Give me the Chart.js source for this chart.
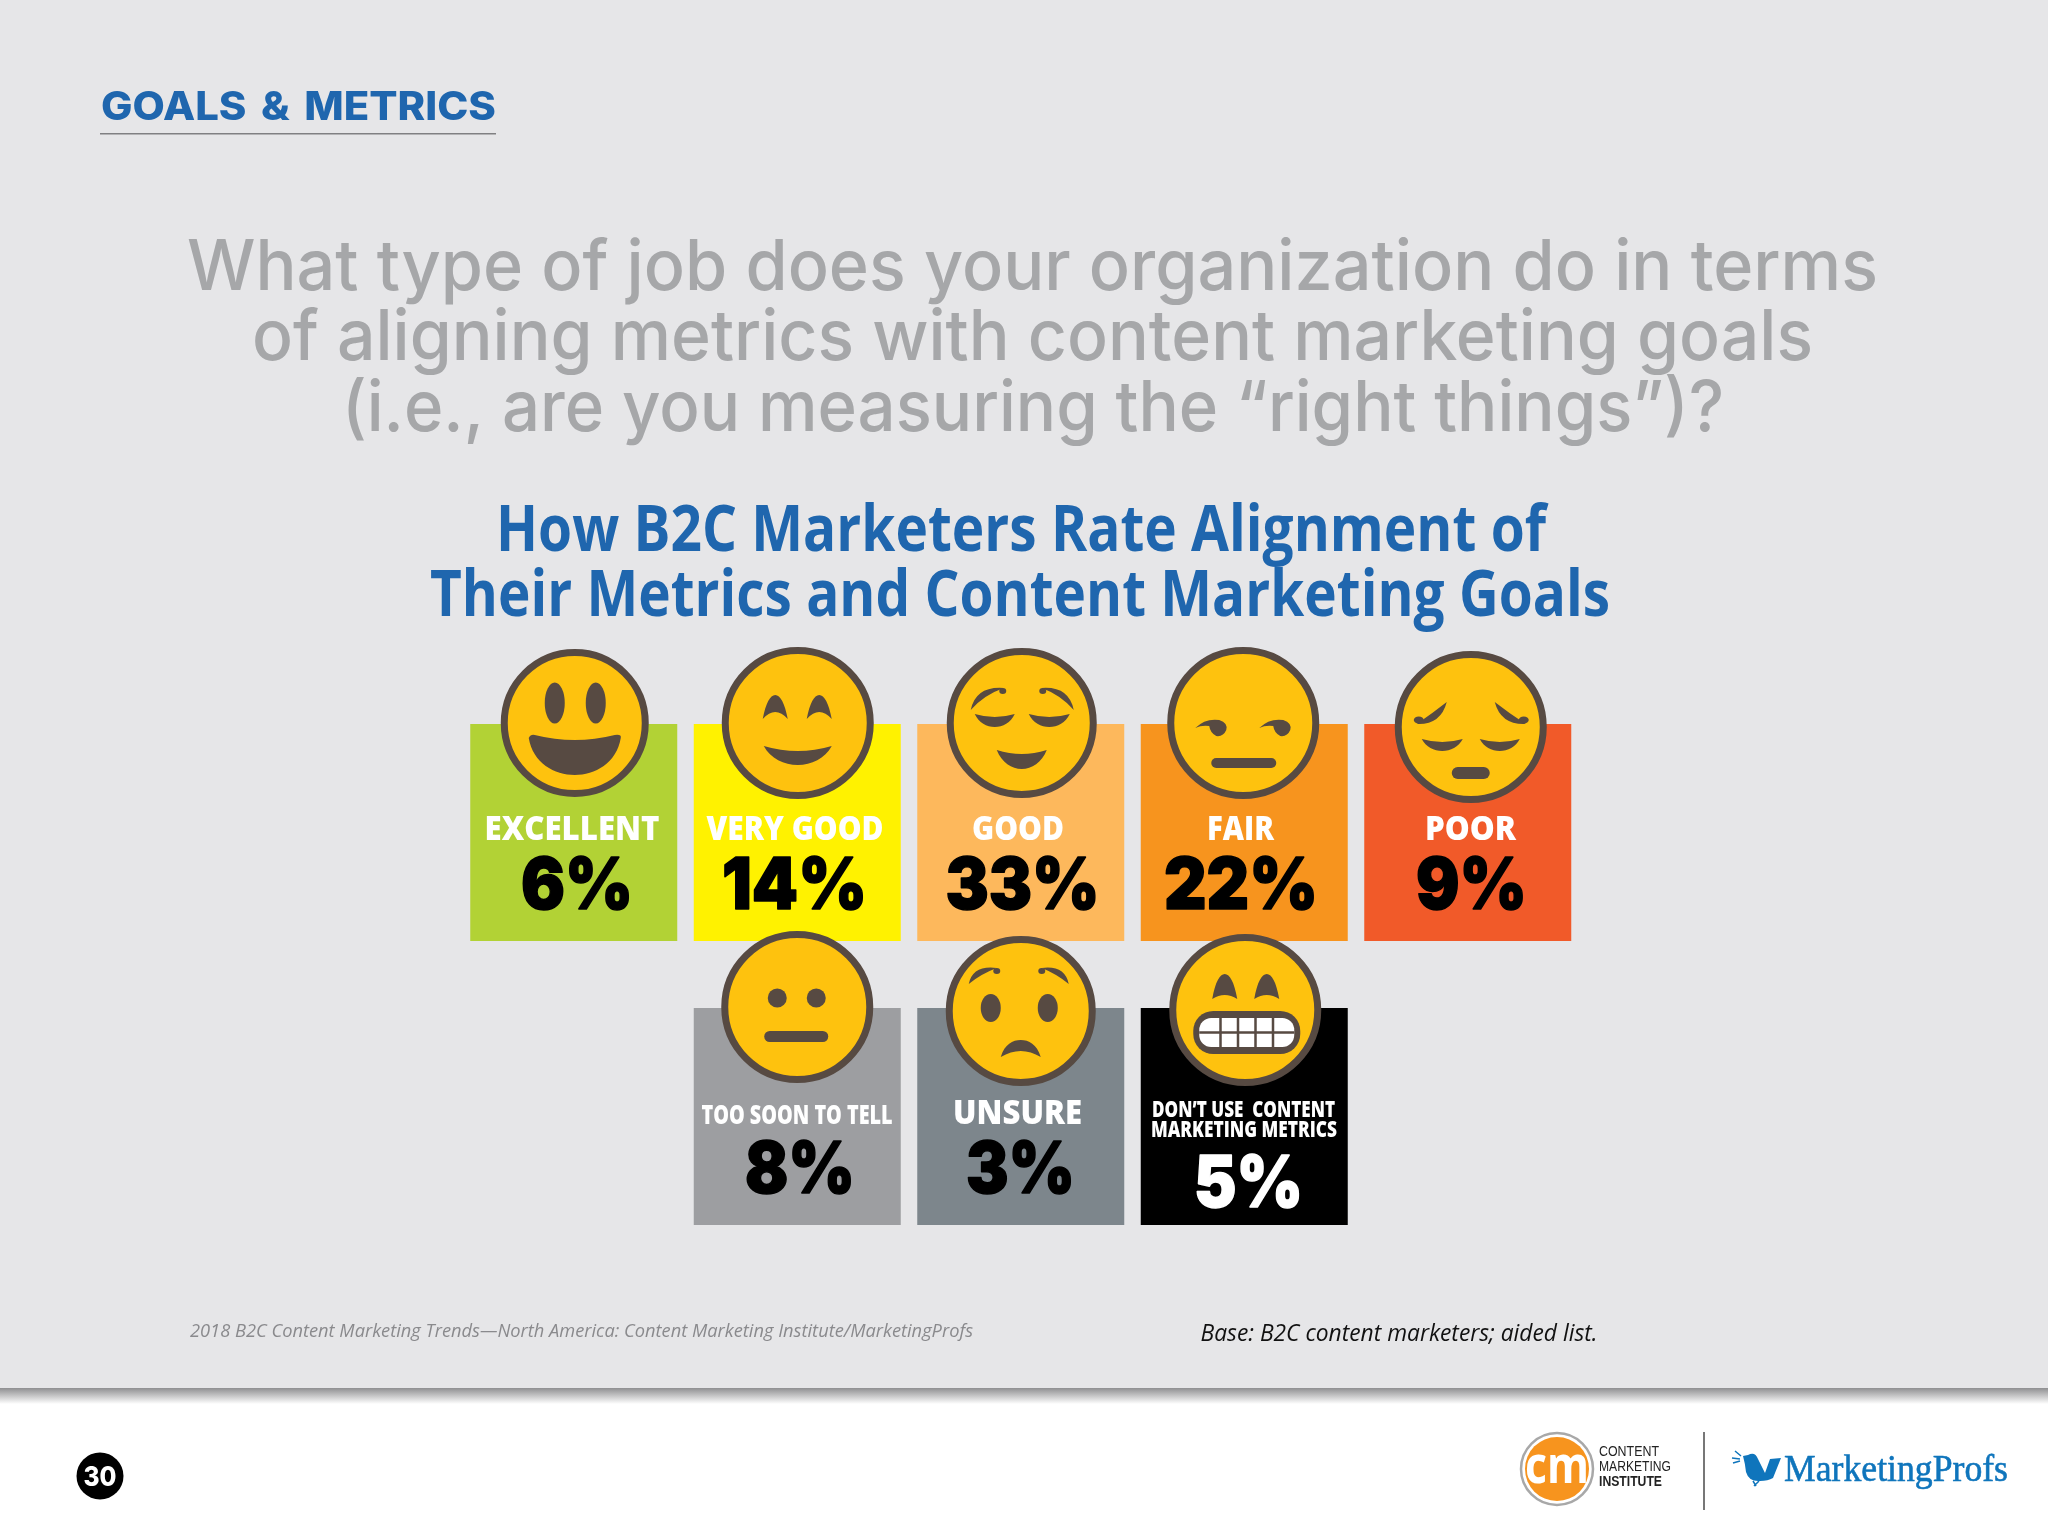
<!DOCTYPE html>
<html>
<head>
<meta charset="utf-8">
<title>How B2C Marketers Rate Alignment</title>
<script src="https://cdn.jsdelivr.net/npm/chart.js@4/dist/chart.umd.js"></script>
<style>
  html, body { margin: 0; padding: 0; background: #e6e6e8; }
  canvas { position: absolute; left: 0; top: 0; display: block; }
</style>
</head>
<body>
<canvas id="tilesChart" width="2048" height="1536"></canvas>
<script>
// data
const columns = ['1', '2', '3', '4', '5'];
const topLabels = ['EXCELLENT', 'VERY GOOD', 'GOOD', 'FAIR', 'POOR'];
const topValues = [6, 14, 33, 22, 9];
const bottomLabels = [null, 'TOO SOON TO TELL', 'UNSURE', 'DON\u2019T USE  CONTENT|MARKETING METRICS', null];
const bottomValues = [null, 8, 3, 5, null];

const topColors = ['#b2d235', '#fff200', '#fdb85c', '#f7941e', '#f15a29'];
const bottomColors = ['#000', '#9d9ea1', '#7d868c', '#000000', '#000'];
const topNumColors = ['#000', '#000', '#000', '#000', '#000'];
const bottomNumColors = ['#000', '#000', '#000', '#fff', '#000'];

const FACE = '#fec20e';
const INK = '#574a42';
const BLUE = '#1f66ae';
const TILE_ROW2 = 284 / 217;

// [dx, dy] from tile centre top, radius, face kind
const topFaces = [
    [1, -1, 74, 'grin'], [0.5, -1, 76, 'smile'], [1, -1, 75, 'relieved'],
    [-1, -1, 76, 'smirk'], [3, 3, 76, 'sad']
];
const bottomFaces = [
    null, [0, -1, 76, 'neutral'], [0, 3, 75, 'worried'], [1, 2, 76, 'teeth'], null
];
// label lines: [cx, baseline, width, font size] and value: [cx, baseline, width]
const topText = [
    [[572, 839.5, 175]], [[795, 839.5, 177]], [[1018, 839.5, 92]], [[1240.5, 839.5, 67]], [[1470.5, 839.5, 91]]
];
const topNum = [[577, 909, 112], [794.5, 909, 145], [1022.5, 909, 154], [1241, 909, 154], [1471.5, 909, 111]];
const bottomText = [
    null, [[797, 1124, 191, 27]], [[1017.5, 1124, 129, 33]],
    [[1243.5, 1117, 183, 22], [1244, 1137, 186, 22]], null
];
const bottomNum = [null, [800, 1193, 110], [1020.5, 1193, 109], [1248.5, 1207, 109], null];

function fitText(ctx, text, cx, y, font, width, color, heavy) {
    ctx.save();
    ctx.font = font;
    ctx.fillStyle = color;
    ctx.textAlign = 'center';
    ctx.textBaseline = 'alphabetic';
    const w = ctx.measureText(text).width;
    ctx.translate(cx, y);
    ctx.scale(width / w, 1);
    ctx.fillText(text, 0, 0);
    if (heavy) {
        ctx.strokeStyle = color;
        ctx.lineWidth = heavy;
        ctx.lineJoin = 'round';
        ctx.strokeText(text, 0, 0);
    }
    ctx.restore();
}

function ell(ctx, x, y, rx, ry) {
    ctx.beginPath();
    ctx.ellipse(x, y, rx, ry, 0, 0, Math.PI * 2);
    ctx.fill();
}

function rounded(ctx, x0, y0, x1, y1, r) {
    ctx.beginPath();
    ctx.roundRect(x0, y0, x1 - x0, y1 - y0, r);
    ctx.fill();
}

// crescent: top edge from (x0,y) to (x1,y) dipping to ytop, sagging to yb in the middle
function crescent(ctx, x0, x1, y, ytop, yb) {
    const m = (x0 + x1) / 2;
    ctx.beginPath();
    ctx.moveTo(x0, y);
    ctx.quadraticCurveTo(m, ytop + (ytop - y), x1, y);
    ctx.bezierCurveTo(x1 - (x1 - m) * 0.4, yb + (yb - y) * 0.33, m - (x1 - m) * 0.6, yb + (yb - y) * 0.33, x0, y);
    ctx.fill();
}

// brow: round thick end at a, tapering to b; two control points give the thickness
function brow(ctx, ax, ay, c1x, c1y, bx, by, c2x, c2y) {
    ctx.beginPath();
    ctx.moveTo(ax, ay);
    ctx.quadraticCurveTo(c1x, c1y, bx, by);
    ctx.quadraticCurveTo(c2x, c2y, ax, ay);
    ctx.fill();
}

// arched eye: peak with indented bottom
function archEye(ctx, x0, x1, yBase, yPeak, yInner) {
    const m = (x0 + x1) / 2;
    ctx.beginPath();
    ctx.moveTo(x0, yBase);
    ctx.bezierCurveTo(x0 + 3, yPeak + 8, m - 5, yPeak, m, yPeak);
    ctx.bezierCurveTo(m + 5, yPeak, x1 - 3, yPeak + 8, x1, yBase);
    ctx.quadraticCurveTo(m, yInner - (yBase - yInner), x0, yBase);
    ctx.fill();
}

const faceKinds = {
    grin(ctx) {
        ell(ctx, -20, -20, 10, 20.5);
        ell(ctx, 21, -20, 10, 20.5);
        ctx.beginPath();
        ctx.moveTo(-46, 15);
        ctx.quadraticCurveTo(-44, 11, -40, 12);
        ctx.quadraticCurveTo(0, 22, 40, 12);
        ctx.quadraticCurveTo(47, 11, 46, 15);
        ctx.bezierCurveTo(42, 40, 20, 52, 0, 52);
        ctx.bezierCurveTo(-20, 52, -42, 40, -46, 15);
        ctx.fill();
    },
    smile(ctx) {
        archEye(ctx, -35, -10, -4, -28, -11);
        archEye(ctx, 9, 34, -4, -28, -11);
        crescent(ctx, -34, 34, 23, 28, 42);
    },
    relieved(ctx) {
        ell(ctx, -19, -32, 3.5, 3);
        ell(ctx, 21, -32, 3.5, 3);
        brow(ctx, -18, -35, -46, -37, -51, -13, -38, -28);
        brow(ctx, 20, -35, 47, -37, 52, -13, 39, -28);
        crescent(ctx, -47, -7, -9, -6, 4);
        crescent(ctx, 7, 48, -9, -6, 4);
        crescent(ctx, -25, 25, 27, 31, 46);
    },
    smirk(ctx) {
        ctx.beginPath();
        ctx.moveTo(-48, 5);
        ctx.quadraticCurveTo(-38, -5, -24, -3);
        ctx.quadraticCurveTo(-15, 0, -17, 7);
        ctx.quadraticCurveTo(-20, 14, -27, 13);
        ctx.quadraticCurveTo(-33, 10, -34, 3);
        ctx.quadraticCurveTo(-42, 2, -48, 5);
        ctx.fill();
        ctx.beginPath();
        ctx.moveTo(16, 5);
        ctx.quadraticCurveTo(26, -5, 40, -3);
        ctx.quadraticCurveTo(49, 0, 47, 7);
        ctx.quadraticCurveTo(44, 14, 37, 13);
        ctx.quadraticCurveTo(31, 10, 30, 3);
        ctx.quadraticCurveTo(22, 2, 16, 5);
        ctx.fill();
        rounded(ctx, -32, 35, 33, 45, 5);
    },
    sad(ctx) {
        ell(ctx, -52, -7, 5, 3.5);
        ell(ctx, 53, -7, 5, 3.5);
        brow(ctx, -24, -25, -30, -2, -54, -3, -38, -14);
        brow(ctx, 24, -25, 30, -2, 55, -3, 38, -14);
        crescent(ctx, -49, -8, 12, 15, 24);
        crescent(ctx, 9, 49, 12, 15, 24);
        rounded(ctx, -19, 40, 19, 52, 6);
    },
    neutral(ctx) {
        ell(ctx, -20, -9, 9.5, 9.5);
        ell(ctx, 19, -9, 9.5, 9.5);
        rounded(ctx, -33, 24, 31, 35, 5.5);
    },
    worried(ctx) {
        ell(ctx, -24, -40, 3.5, 3);
        ell(ctx, 21, -40, 3.5, 3);
        brow(ctx, -24, -43, -48, -46, -52, -27, -40, -37);
        brow(ctx, 21, -43, 44, -46, 48, -27, 36, -37);
        ell(ctx, -30, -3, 10, 14);
        ell(ctx, 27, -3, 10, 14);
        ctx.beginPath();
        ctx.moveTo(-20, 46);
        ctx.bezierCurveTo(-16, 33, -8, 29, 0, 29);
        ctx.bezierCurveTo(8, 29, 16, 33, 20, 46);
        ctx.quadraticCurveTo(0, 34, -20, 46);
        ctx.fill();
    },
    teeth(ctx) {
        archEye(ctx, -33, -8, -11, -36, -15);
        archEye(ctx, 9, 34, -11, -36, -15);
        rounded(ctx, -52, 1, 55, 44, 20);
        ctx.fillStyle = '#fff';
        rounded(ctx, -46, 8, 49, 37, 12);
        ctx.strokeStyle = INK;
        ctx.lineWidth = 2.5;
        ctx.beginPath();
        for (let i = -1.5; i <= 2; i++) {
            ctx.moveTo(1.5 + i * 17.5, 7);
            ctx.lineTo(1.5 + i * 17.5, 38);
        }
        ctx.moveTo(-46, 22.5);
        ctx.lineTo(49, 22.5);
        ctx.stroke();
    }
};

function drawFace(ctx, x, y, r, kind) {
    ctx.save();
    ctx.translate(x, y);
    ctx.beginPath();
    ctx.arc(0, 0, r - 3.5, 0, Math.PI * 2);
    ctx.fillStyle = FACE;
    ctx.fill();
    ctx.lineWidth = 7;
    ctx.strokeStyle = INK;
    ctx.stroke();
    ctx.fillStyle = INK;
    faceKinds[kind](ctx);
    ctx.restore();
}

const pagePlugin = {
    id: 'page',
    beforeDraw(chart) {
        const ctx = chart.ctx;
        ctx.save();
        ctx.fillStyle = '#e6e6e8';
        ctx.fillRect(0, 0, 2048, 1388);
        const g = ctx.createLinearGradient(0, 1388, 0, 1404);
        g.addColorStop(0, '#8f8f91');
        g.addColorStop(1, '#ffffff');
        ctx.fillStyle = g;
        ctx.fillRect(0, 1388, 2048, 16);
        ctx.fillStyle = '#ffffff';
        ctx.fillRect(0, 1404, 2048, 132);

        ctx.wordSpacing = '5px';
        fitText(ctx, 'GOALS & METRICS', 298.5, 120, '800 39px Inter', 395, BLUE);
        ctx.wordSpacing = '0px';
        ctx.fillStyle = '#808082';
        ctx.fillRect(100, 133, 396, 1.5);

        const grey = '#a6a7a9';
        const qf = '500 70px Inter';
        fitText(ctx, 'What type of job does your organization do in terms', 1032.5, 290, qf, 1691, grey);
        fitText(ctx, 'of aligning metrics with content marketing goals', 1032.5, 360, qf, 1561, grey);
        fitText(ctx, '(i.e., are you measuring the \u201Cright things\u201D)?', 1033, 431, qf, 1382, grey);

        const hf = '700 64px "Open Sans"';
        fitText(ctx, 'How B2C Marketers Rate Alignment of', 1021, 551, hf, 1050, BLUE);
        fitText(ctx, 'Their Metrics and Content Marketing Goals', 1020, 616, hf, 1180, BLUE);

        fitText(ctx, '2018 B2C Content Marketing Trends\u2014North America: Content Marketing Institute/MarketingProfs',
            581.5, 1337, 'italic 400 19px "Open Sans"', 783, '#8a8a8d');
        fitText(ctx, 'Base: B2C content marketers; aided list.', 1399, 1341, 'italic 400 24px "Open Sans"', 397, '#111');

        // page number
        ctx.fillStyle = '#000';
        ctx.beginPath();
        ctx.arc(100, 1476, 23.5, 0, Math.PI * 2);
        ctx.fill();
        fitText(ctx, '30', 100, 1486, '800 27px Inter', 33, '#fff');

        drawLogos(ctx);
        ctx.restore();
    },
    afterDatasetsDraw(chart) {
        const ctx = chart.ctx;
        drawRow(ctx, chart, 0, topLabels, topValues, topFaces, topText, topNum, topNumColors);
        drawRow(ctx, chart, 1, bottomLabels, bottomValues, bottomFaces, bottomText, bottomNum, bottomNumColors);
    }
};

function drawRow(ctx, chart, index, labels, values, faces, text, num, numColors) {
    const bars = chart.getDatasetMeta(index).data;
    values.forEach(function (value, i) {
        if (value === null) return;
        const bar = bars[i];
        const top = Math.min(bar.y, bar.base);
        const f = faces[i];
        drawFace(ctx, bar.x + f[0], top + f[1], f[2], f[3]);
        labels[i].split('|').forEach(function (line, n) {
            const t = text[i][n];
            fitText(ctx, line, t[0], t[1], '800 ' + (t[3] || 33) + 'px "Open Sans"', t[2], '#fff');
        });
        const p = num[i];
        fitText(ctx, value + '%', p[0], p[1], '900 71px Inter', p[2], numColors[i], 1.5);
    });
}

function drawLogos(ctx) {
    // Content Marketing Institute badge
    ctx.beginPath();
    ctx.arc(1557, 1469, 36, 0, Math.PI * 2);
    ctx.fillStyle = '#fff';
    ctx.fill();
    ctx.lineWidth = 2.5;
    ctx.strokeStyle = '#a8a8a8';
    ctx.stroke();
    ctx.beginPath();
    ctx.arc(1557, 1469, 32, 0, Math.PI * 2);
    ctx.fillStyle = '#f7941e';
    ctx.fill();
    fitText(ctx, 'cm', 1557, 1483, '700 52px "Open Sans"', 64, '#fff');
    fitText(ctx, 'CONTENT', 1629, 1456, '14px "Liberation Sans"', 60, '#222');
    fitText(ctx, 'MARKETING', 1635, 1471, '14px "Liberation Sans"', 72, '#222');
    fitText(ctx, 'INSTITUTE', 1630.5, 1486, '700 14px "Liberation Sans"', 63, '#222');
    // divider
    ctx.fillStyle = '#777';
    ctx.fillRect(1703, 1432, 2, 78);
    // MarketingProfs bird and wordmark
    ctx.fillStyle = '#0f75bc';
    ctx.fill(new Path2D('M1743 1456 L1748 1455 Q1755 1451 1758 1459 L1765 1473 L1770 1459 L1781 1458 L1773 1478 Q1768 1481 1760 1481 Q1749 1482 1746 1472 Q1745 1463 1743 1456 Z'));
    ctx.strokeStyle = '#0f75bc';
    ctx.lineWidth = 1.5;
    ctx.stroke(new Path2D('M1753 1481 L1756 1486 M1759 1481 L1754 1486 M1732 1458 L1740 1459 M1735 1451 L1741 1456 M1733 1463 L1740 1461'));
    fitText(ctx, 'MarketingProfs', 1896, 1481, '38px "Liberation Serif"', 224, '#0f75bc', 0.6);
}

new Chart(document.querySelector('#tilesChart'), {
    type: 'bar',
    data: {
        labels: columns,
        datasets: [
            {
                data: topValues.map(function (v) { return v === null ? null : [0, 1]; }),
                backgroundColor: topColors,
                grouped: false
            },
            {
                data: bottomValues.map(function (v) { return v === null ? null : [TILE_ROW2, TILE_ROW2 + 1]; }),
                backgroundColor: bottomColors,
                grouped: false
            }
        ]
    },
    options: {
        responsive: false,
        animation: false,
        devicePixelRatio: 1,
        barPercentage: 207 / 223.5,
        categoryPercentage: 1,
        layout: { padding: { left: 462, right: 468.5, top: 724, bottom: 311 } },
        plugins: { legend: { display: false }, tooltip: { enabled: false } },
        scales: {
            x: { display: false },
            y: { display: false, reverse: true, min: 0, max: TILE_ROW2 + 1 }
        }
    },
    plugins: [pagePlugin]
});
</script>
</body>
</html>
